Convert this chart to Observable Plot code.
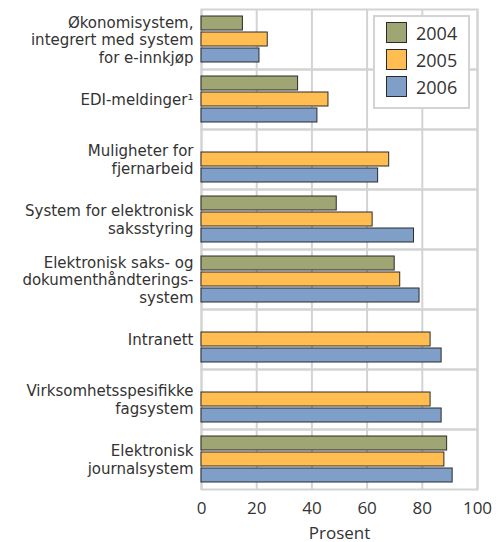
<!DOCTYPE html>
<html>
<head>
<meta charset="utf-8">
<script src="https://cdn.jsdelivr.net/npm/d3@7"></script>
<script src="https://cdn.jsdelivr.net/npm/@observablehq/plot@0.6"></script>
<style>
  body { margin: 0; background: #fff; }
  #wrap { position: relative; width: 500px; height: 542px; font-family: "Open Sans", sans-serif; }
  #wrap svg { position: absolute; left: 0; top: 0; }
  #legend { position: absolute; left: 373px; top: 15px; width: 97px; height: 94px; box-sizing: border-box;
            border: 2px solid #d3d3d3; background: #fff; padding: 2px 0 0 11px; }
  .item { display: flex; align-items: center; height: 27px; font-size: 18px; color: #333; }
  .sw { width: 19px; height: 19px; border: 1px solid #2b2b2b; margin-right: 9px; }
</style>
</head>
<body>
<div id="wrap"></div>
<script>
const categories = [
  "Økonomisystem,\nintegrert med system\nfor e-innkjøp",
  "EDI-meldinger¹",
  "Muligheter for\nfjernarbeid",
  "System for elektronisk\nsaksstyring",
  "Elektronisk saks- og\ndokumenthåndterings-\nsystem",
  "Intranett",
  "Virksomhetsspesifikke\nfagsystem",
  "Elektronisk\njournalsystem"
];
const years = ["2004", "2005", "2006"];
const v2004 = [15, 35, null, 49, 70, null, null, 89];
const v2005 = [24, 46, 68, 62, 72, 83, 83, 88];
const v2006 = [21, 42, 64, 77, 79, 87, 87, 91];
const colors = ["#9fa573", "#ffbd52", "#7f9fc8"];
const xTicks = [0, 20, 40, 60, 80, 100];

const series = [v2004, v2005, v2006];
const data = [];
categories.forEach((c, i) => {
  years.forEach((y, j) => {
    const v = series[j][i];
    if (v != null) data.push({cat: c, year: y, value: v});
  });
});

const chart = Plot.plot({
  width: 500,
  height: 542,
  marginLeft: 201,
  marginRight: 23,
  marginTop: 7,
  marginBottom: 51,
  style: {fontFamily: "'Open Sans', sans-serif", color: "#333", background: "transparent"},
  x: {domain: [0, 100], axis: null},
  y: {domain: years, paddingInner: 0.12, paddingOuter: 0.43, axis: null},
  fy: {domain: categories, padding: 0, axis: null},
  color: {domain: years, range: colors},
  marks: [
    Plot.gridX(xTicks, {stroke: "#d3d3d3", strokeOpacity: 1, strokeWidth: 2}),
    Plot.frame({stroke: "#d3d3d3", strokeWidth: 2}),
    Plot.barX(data, {x: "value", y: "year", fy: "cat", fill: "year", stroke: "#2b2b2b", strokeWidth: 1}),
    Plot.axisFy({anchor: "left", tickSize: 0, tickPadding: 8, label: null, fontSize: 15, lineHeight: 1.17,
      fill: "#333", fontFamily: "'DejaVu Sans', sans-serif"}),
    Plot.axisX(xTicks, {anchor: "bottom", tickSize: 0, tickPadding: 12, fontSize: 17, fill: "#333",
      label: "Prosent", labelAnchor: "center", labelArrow: "none", labelOffset: 49})
  ]
});

const wrap = document.getElementById("wrap");
wrap.appendChild(chart);

const legend = document.createElement("div");
legend.id = "legend";
years.forEach((y, j) => {
  const it = document.createElement("div");
  it.className = "item";
  const sw = document.createElement("div");
  sw.className = "sw";
  sw.style.background = colors[j];
  const t = document.createElement("span");
  t.textContent = y;
  it.appendChild(sw);
  it.appendChild(t);
  legend.appendChild(it);
});
wrap.appendChild(legend);
</script>
</body>
</html>
